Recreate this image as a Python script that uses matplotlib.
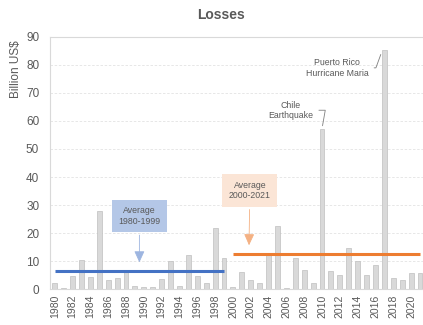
import matplotlib
matplotlib.use("Agg")
import matplotlib.pyplot as plt
import numpy as np

YEARS = list(range(1980, 2022))
LOSSES = [
    2.3, 0.4, 4.8, 10.4, 4.3, 27.9, 3.3, 3.9, 6.9, 1.3,
    0.7, 0.7, 3.6, 10.0, 1.2, 12.2, 4.7, 2.2, 21.8, 11.1,
    0.9, 6.2, 3.4, 2.4, 12.2, 22.5, 0.3, 11.1, 6.9, 2.2,
    57.0, 6.5, 5.0, 14.6, 10.2, 5.0, 8.6, 85.4, 4.1, 3.3,
    5.9, 5.7,
]
PERIODS = [(1980, 1999), (2000, 2021)]
PERIOD_COLORS = ["#4472C4", "#ED7D31"]
BOX_FILLS = ["#B4C7E7", "#FBE5D6"]
ARROW_COLORS = ["#9DB5E0", "#F4B183"]
TEXT_GRAY = "#595959"

plt.rcParams["font.family"] = ["Liberation Sans", "DejaVu Sans"]

fig = plt.figure(figsize=(4.23, 3.25), dpi=100)
ax = fig.add_axes([50.3 / 423, 35.7 / 325, 374.2 / 423, 252.6 / 325])

x = np.arange(len(YEARS))
ax.bar(x, LOSSES, width=0.55, color="#D9D9D9", edgecolor="#BFBFBF", linewidth=0.5, zorder=2)

losses = np.array(LOSSES)
years = np.array(YEARS)
box_pos = [(9.5, 26.1), (21.9, 35.2)]
tip_pos = [(9.5, 8.6), (21.8, 14.7)]
for (start, end), color, fill, acol, bpos, tpos in zip(
    PERIODS, PERIOD_COLORS, BOX_FILLS, ARROW_COLORS, box_pos, tip_pos
):
    mask = (years >= start) & (years <= end)
    avg = losses[mask].mean()
    idx = x[mask]
    ax.plot([idx[0], idx[-1]], [avg, avg], color=color, linewidth=2.2, zorder=3,
            solid_capstyle="butt")
    ax.annotate(
        f"Average\n{start}-{end}", xy=tpos, xytext=bpos, ha="center", va="center",
        fontsize=6.3, color=TEXT_GRAY, zorder=4,
        bbox=dict(boxstyle="square,pad=0.75", fc=fill, ec="none"),
        arrowprops=dict(arrowstyle="-|>,head_length=1.1,head_width=0.5",
                        color=acol, linewidth=0.6),
    )

ax.annotate("Chile\nEarthquake", xy=(30, 57.3), xytext=(26.5, 63.8), ha="center",
            va="center", fontsize=6.3, color=TEXT_GRAY,
            arrowprops=dict(arrowstyle="-", color="#7F7F7F", linewidth=0.6,
                            connectionstyle="angle,angleA=0,angleB=80,rad=0"))
ax.annotate("Puerto Rico\nHurricane Maria", xy=(36.7, 84.6), xytext=(31.7, 78.9),
            ha="center", va="center", fontsize=6.3, color=TEXT_GRAY,
            arrowprops=dict(arrowstyle="-", color="#7F7F7F", linewidth=0.6,
                            connectionstyle="angle,angleA=0,angleB=70,rad=0"))

ax.set_xlim(-0.5, len(YEARS) - 0.5)
ax.set_ylim(0, 90)
ax.set_yticks(range(0, 91, 10))
ax.set_xticks(x[::2])
ax.set_xticklabels([str(y) for y in YEARS[::2]], rotation=90)
ax.tick_params(axis="y", length=0, pad=8, labelsize=8.5, labelcolor=TEXT_GRAY)
ax.tick_params(axis="x", length=0, pad=4, labelsize=7.5, labelcolor=TEXT_GRAY)
ax.yaxis.grid(True, color="#E3E3E3", linestyle=(0, (3, 2)), linewidth=0.6, zorder=0)
ax.set_axisbelow(True)
for side in ["left", "top", "right", "bottom"]:
    ax.spines[side].set_color("#D9D9D9")
    ax.spines[side].set_linewidth(0.8)
ax.spines["right"].set_visible(False)

ax.set_ylabel("Billion US$", fontsize=8.5, color=TEXT_GRAY)
ax.yaxis.set_label_coords(-0.0764, 0.872)

fig.text(0.522, 0.954, "Losses", ha="center", va="center", fontsize=10,
         fontweight="bold", color=TEXT_GRAY)

fig.savefig("out.png", dpi=100)
